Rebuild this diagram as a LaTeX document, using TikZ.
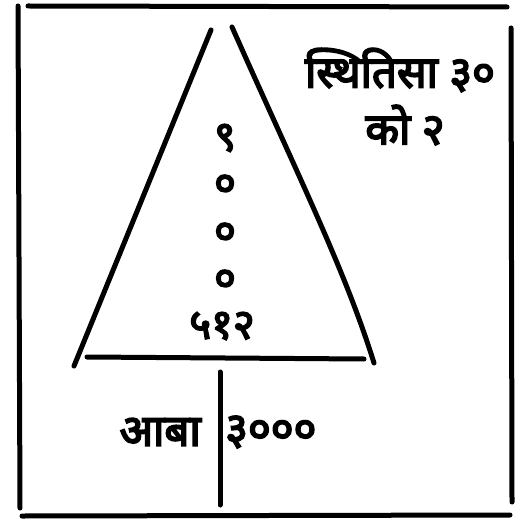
\documentclass[tikz,border=0pt]{standalone}
\usepackage{fontspec}
\newfontfamily\deva[Script=Devanagari,FakeBold=4]{Noto Sans}
\begin{document}
\begin{tikzpicture}[x=1bp,y=-1bp,
  frame/.style={line width=5bp,line cap=round},
  tri/.style={line width=5bp,line cap=round},
  lbl/.style={inner sep=0pt,font=\deva\fontsize{44}{48}\selectfont},
  dig/.style={inner sep=0pt,font=\deva\fontsize{42}{46}\selectfont}]
\useasboundingbox (0,0) rectangle (528,520);
% frame
\coordinate (ftl) at (28,6);
\coordinate (ftr) at (507,7);
\coordinate (fl1) at (18,6);
\coordinate (fl2) at (20,508);
\coordinate (fr1) at (511,28);
\coordinate (fr2) at (512,502);
\coordinate (fb1) at (22,516);
\coordinate (fb2) at (510,515);
\draw[frame] (ftl) -- (ftr);
\draw[frame] (fl1) -- (fl2);
\draw[frame] (fr1) -- (fr2);
\draw[frame] (fb1) -- (fb2);
% triangle
\coordinate (tl1) at (211,30);
\coordinate (tl2) at (74,366);
\coordinate (tr1) at (232,27);
\coordinate (tr2) at (374,363);
\coordinate (b1) at (87,357);
\coordinate (b2) at (364,359);
\coordinate (s1) at (220,372);
\coordinate (s2) at (220,505);
\draw[tri] (tl1) -- (tl2);
\draw[tri] (tr1) .. controls (300,180) and (345,270) .. (tr2);
\draw[tri] (b1) -- (b2);
\draw[tri] (s1) -- (s2);
% texts
\node[lbl] (t1) at (400,70) {स्थितिसा ३०};
\node[lbl] (t2) at (405,125) {को २};
\node[dig] (d1) at (225,138) {९};
\node[dig] (d2) at (225,186) {०};
\node[dig] (d3) at (225,234) {०};
\node[dig] (d4) at (225,281) {०};
\node[dig] (d5) at (222,326) {५१२};
\node[lbl,anchor=east] (a1) at (201,432) {आबा};
\node[lbl,anchor=west] (a2) at (225,432) {३०००};
\end{tikzpicture}
\end{document}
